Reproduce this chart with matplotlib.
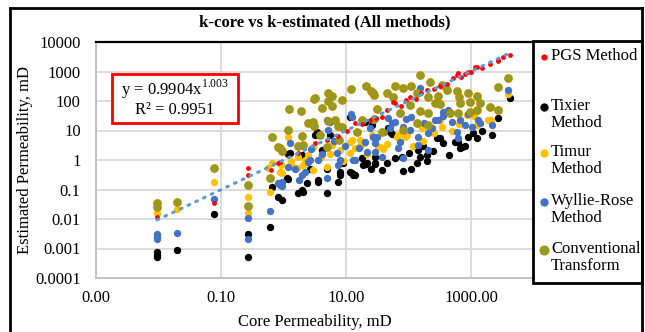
import numpy as np
import matplotlib.pyplot as plt
from matplotlib.lines import Line2D
from matplotlib.patches import Rectangle

plt.rcParams['font.family'] = ['Liberation Serif', 'DejaVu Serif']
plt.rcParams['mathtext.fontset'] = 'custom'
plt.rcParams['mathtext.rm'] = 'Liberation Serif'

# core permeability (mD) vs estimated permeability (mD)
pgs_k = [0.0095, 0.077, 0.27, 0.27, 0.63, 0.82, 0.88, 1.71, 3.19, 4.97, 7.5, 10.5,
         13.9, 18, 24, 30, 37.7, 45, 56.5, 60.8, 75, 90, 105.7, 130, 160, 200, 260,
         320, 420, 520, 597, 620, 700, 800, 900, 1000, 1160, 1247, 1500, 2000, 2700,
         2704, 3300, 4207]
pgs_est = [0.012, 0.035, 0.54, 0.31, 0.46, 0.79, 0.86, 1.73, 3.77, 4.8, 6.5, 9.8,
           18, 16, 22.7, 26, 28.7, 50, 92.5, 85.5, 70, 110, 137, 120, 180, 230, 250,
           330, 380, 600, 760, 890, 650, 820, 1000, 950, 1420, 1420, 1300, 1800, 2270,
           2450, 3000, 3620]

tixier_k = [0.0095, 0.0095, 0.0095, 0.020, 0.077, 0.27, 0.27, 0.6, 0.65, 0.82, 0.95,
            1.18, 1.71, 2.04, 2.38, 3.56, 4.97, 7.45, 12.5, 13.9, 20.9, 29.1, 37.7,
            1.97, 1.18, 1.27, 1.14, 3.19, 1.97, 3.56, 8.0, 8.0, 11.6, 12.9, 18, 5.5,
            29.1, 47, 78.7, 100, 153, 198, 286, 555, 667, 895, 1247, 2163, 2704, 4207,
            81.3, 60.8, 137, 198, 142, 29.1, 21.7, 620, 718, 319, 356, 1075, 11.6,
            20.1, 3.44, 4.13, 19, 26.1, 51, 54.5, 2.7, 5.0, 9.0, 25, 45, 110, 170,
            250, 450, 800, 1500]
tixier_est = [0.00076, 0.0006, 0.0005, 0.00086, 0.015, 0.003, 0.0005, 0.0054, 0.12,
              0.056, 0.044, 0.23, 0.077, 0.082, 0.166, 0.18, 0.077, 0.18, 0.36, 0.3,
              0.73, 0.73, 0.46, 1.48, 1.6, 1.73, 0.245, 7.0, 0.096, 0.21, 0.39, 0.31,
              0.39, 0.31, 1.17, 7.0, 1.26, 12.2, 1.26, 1.73, 1.26, 1.48, 5.6, 4.07,
              2.55, 6.0, 5.6, 7.0, 26.5, 126, 0.42, 1.17, 0.79, 0.92, 2.18, 0.79, 0.79,
              4.07, 2.76, 5.6, 3.77, 8.2, 28.7, 19.4, 8.9, 2.18, 0.68, 15.4, 8.9, 7.6,
              0.5, 0.5, 0.8, 0.5, 0.8, 0.5, 3.0, 2.0, 1.5, 3.0, 10]

timur_k = [0.0095, 0.020, 0.077, 0.27, 0.27, 0.6, 0.65, 0.88, 0.95, 1.65, 2.04, 4.97,
           1.42, 1.71, 2.21, 2.96, 6.0, 18, 26.1, 8.0, 0.565, 65.5, 87.9, 2089, 164,
           3908, 32.6, 39, 67.8, 94.6, 221, 343, 850, 1247, 1850, 319, 16.7, 19.1,
           11.6, 35, 1.18, 12.5, 7.45, 11.6, 16.7, 0.9, 1.3, 2.5, 3.0, 4.0, 5.5, 9.0,
           14, 22, 45, 120, 170, 260, 500, 650, 1100]
timur_est = [0.016, 0.022, 0.18, 0.057, 0.016, 0.082, 0.79, 0.39, 0.36, 0.54, 0.68,
             0.58, 0.58, 1.26, 1.0, 2.76, 3.2, 4.07, 7.0, 2.18, 0.54, 6.0, 6.0, 22.7,
             12.2, 173, 2.76, 2.4, 7.0, 7.0, 13.1, 13.1, 33.5, 15.4, 22.7, 22.7, 4.8,
             3.77, 1.73, 2.76, 6.0, 4.8, 13.1, 4.07, 3.0, 0.7, 0.9, 1.5, 0.45, 1.3,
             1.6, 0.9, 2.5, 1.6, 3.5, 3.0, 4.5, 8.0, 10, 17, 30]

wyllie_k = [0.0095, 0.0095, 0.0095, 0.020, 0.077, 0.27, 0.27, 0.6, 0.82, 0.95, 1.78,
            1.27, 1.18, 2.21, 1.97, 0.88, 0.95, 3.56, 5.5, 5.15, 7.18, 8.0, 7.45, 4.97,
            13.9, 20.1, 21.7, 29.1, 29.1, 31.3, 27, 12.5, 54.5, 47, 51, 73, 67.8,
            105.7, 142, 205, 296, 429, 667, 802, 1038, 1294, 2163, 2704, 81.3, 142,
            597, 153, 620, 3908, 356, 27, 37.7, 81.3, 205, 265, 12, 4.97, 2.47, 2.65,
            12.9, 1.5, 2.8, 4.2, 6.5, 9.5, 16, 24, 40, 60, 90, 110, 180, 240, 350,
            500, 900, 1400]
wyllie_est = [0.0031, 0.0025, 0.0021, 0.0034, 0.047, 0.011, 0.0021, 0.018, 0.166,
              0.13, 0.21, 3.77, 0.58, 0.39, 0.31, 0.14, 0.18, 1.0, 19.4, 10.4, 1.73,
              1.0, 0.68, 0.245, 1.0, 4.07, 1.87, 3.77, 1.87, 6.0, 22.7, 28.7, 18, 26.5,
              12.2, 4.07, 2.55, 10.4, 6.0, 8.2, 22.7, 49.5, 22.7, 15.4, 13.1, 22.7,
              15.4, 49.5, 1.17, 3.2, 8.9, 276, 5.6, 236, 42.4, 6.0, 1.26, 13.1, 2.18,
              22.7, 36.2, 22.7, 0.86, 1.0, 1.0, 0.5, 2.3, 1.6, 4.5, 3.0, 2.6, 12, 9,
              20, 25, 28, 18, 12, 30, 20, 35, 18]

conv_k = [0.0095, 0.0095, 0.020, 0.077, 0.27, 0.27, 0.6, 20.9, 25.1, 28, 12, 5.15, 6.0,
          3.07, 5.15, 8.6, 4.13, 6.0, 1.23, 1.9, 2.47, 2.96, 3.07, 5.15, 6.67, 7.45,
          8.6, 1.18, 0.65, 1.97, 3.84, 7.7, 15, 18, 28, 31.3, 0.82, 0.95, 1.71, 2.04,
          4.97, 153, 60.8, 81.3, 109, 27, 45, 221, 343, 413, 56.5, 137, 205, 296, 597,
          642, 895, 1247, 3908, 2704, 105.7, 265, 319, 667, 963, 1393, 153, 73, 205,
          461, 620, 963, 1247, 2000, 2704, 81.3, 205, 37.7, 137, 3.19, 0.88]
conv_est = [0.035, 0.026, 0.037, 0.54, 0.14, 0.028, 0.24, 322, 218, 160, 255, 187,
            148, 117, 100, 108, 58, 67.6, 53.6, 45.8, 18, 19.4, 14.2, 21, 22.7, 14.2,
            13.1, 10.4, 6.0, 6.5, 7.0, 4.8, 8.9, 22.7, 24.5, 53.6, 2.76, 2.0, 3.0, 3.2,
            2.76, 760, 322, 276, 322, 187, 187, 441, 348, 236, 137, 187, 137, 148, 218,
            137, 187, 148, 603, 298, 73, 85.5, 79, 85.5, 92.5, 85.5, 45.8, 39.2, 39.2,
            39.2, 39.2, 42.4, 49.5, 62.6, 49.5, 10.4, 15.4, 8.9, 18, 126, 2.55]

# trendline shown on the chart: y = 0.9904x^1.003
trend_a, trend_b = 0.9904, 1.003

W, H = 645, 332
fig = plt.figure(figsize=(W / 100, H / 100), dpi=100)
ax = fig.add_axes([96 / W, 1 - 278 / H, (533 - 96) / W, (278 - 42) / H])

ax.scatter(tixier_k, tixier_est, s=28, color='#000000', linewidths=0, zorder=3)
ax.scatter(timur_k, timur_est, s=28, color='#FFC000', linewidths=0, zorder=4)
ax.scatter(wyllie_k, wyllie_est, s=28, color='#4472C4', linewidths=0, zorder=5)
ax.scatter(conv_k, conv_est, s=24, facecolor='#7FA33A', edgecolor='#B38F00',
           linewidths=1.4, zorder=6)
ax.scatter(pgs_k, pgs_est, s=12, color='#FF0000', linewidths=0, zorder=7)

xt = np.geomspace(min(pgs_k), max(pgs_k), 200)
ax.plot(xt, trend_a * xt ** trend_b, color='#5B9BD5', lw=2.2,
        linestyle=(0, (0.6, 2.2)), dash_capstyle='round', zorder=8)

ax.set_xscale('log')
ax.set_yscale('log')
ax.set_xlim(1e-3, 10 ** ((533 - 96) / 62.5 - 3))
ax.set_ylim(1e-4, 1e4)
ax.set_xticks([0.001, 0.1, 10, 1000])
ax.set_xticklabels(['0.00', '0.10', '10.00', '1000.00'])
ax.set_yticks([1e-4, 1e-3, 1e-2, 1e-1, 1, 10, 100, 1000, 10000])
ax.set_yticklabels(['0.0001', '0.001', '0.01', '0.1', '1', '10', '100', '1000', '10000'])
ax.minorticks_off()
ax.tick_params(length=0, labelsize=12)
ax.tick_params(axis='x', pad=9)
ax.tick_params(axis='y', pad=11)
ax.grid(color='#D9D9D9', linewidth=1.3, zorder=0)
ax.set_axisbelow(True)
for side in ['left', 'bottom']:
    ax.spines[side].set_color('#BFBFBF')
    ax.spines[side].set_linewidth(1.3)
ax.spines['top'].set_color('black')
ax.spines['top'].set_linewidth(1.6)
ax.spines['right'].set_visible(False)

fig.text(325 / W, 1 - 22 / H, 'k-core vs k-estimated (All methods)',
         fontsize=12, fontweight='bold', ha='center', va='center')
fig.text(314.5 / W, 1 - 322 / H, 'Core Permeability, mD', fontsize=12,
         ha='center', va='center')
fig.text(25 / W, 1 - 160 / H, 'Estimated Permeability, mD', fontsize=12,
         ha='center', va='center', rotation=90)

# equation box
fig.add_artist(Rectangle((112 / W, 1 - 123 / H), 126 / W, 49 / H, transform=fig.transFigure,
                         facecolor='white', edgecolor='#FF0000', lw=2, zorder=10))
fig.text(175 / W, 1 - 89 / H, r'y = 0.9904x$^{1.003}$', fontsize=12,
         ha='center', va='center', zorder=11)
fig.text(175 / W, 1 - 110 / H, 'R² = 0.9951', fontsize=12,
         ha='center', va='center', zorder=11)

# legend box
fig.add_artist(Rectangle((533 / W, 1 - 283 / H), 109 / W, 242 / H, transform=fig.transFigure,
                         facecolor='white', edgecolor='black', lw=2, zorder=10))
leg_items = [('PGS Method', 57, '#FF0000', None, 4.5),
             ('Tixier\nMethod', 107, '#000000', None, 6),
             ('Timur\nMethod', 153, '#FFC000', None, 6),
             ('Wyllie-Rose\nMethod', 202, '#4472C4', None, 6),
             ('Conventional\nTransform', 250, '#7FA33A', '#B38F00', 6)]
for label, y, fc, ec, ms in leg_items:
    fig.add_artist(Line2D([544 / W], [1 - y / H], marker='o', markersize=ms,
                          markerfacecolor=fc, markeredgecolor=ec or fc,
                          markeredgewidth=1.2 if ec else 0, linestyle='none',
                          transform=fig.transFigure, zorder=11))
    fig.text(551 / W, 1 - (y - 9) / H, label, fontsize=12, ha='left', va='top',
             linespacing=1.1, zorder=11)

# outer chart frame
for xs, ys in [([10, 10], [8, 340]), ([10, 642], [8, 8]), ([642, 642], [8, 340])]:
    fig.add_artist(Line2D([x / W for x in xs], [1 - y / H for y in ys], color='black',
                          lw=2, transform=fig.transFigure, zorder=12))

plt.savefig('out.png', dpi=100)
